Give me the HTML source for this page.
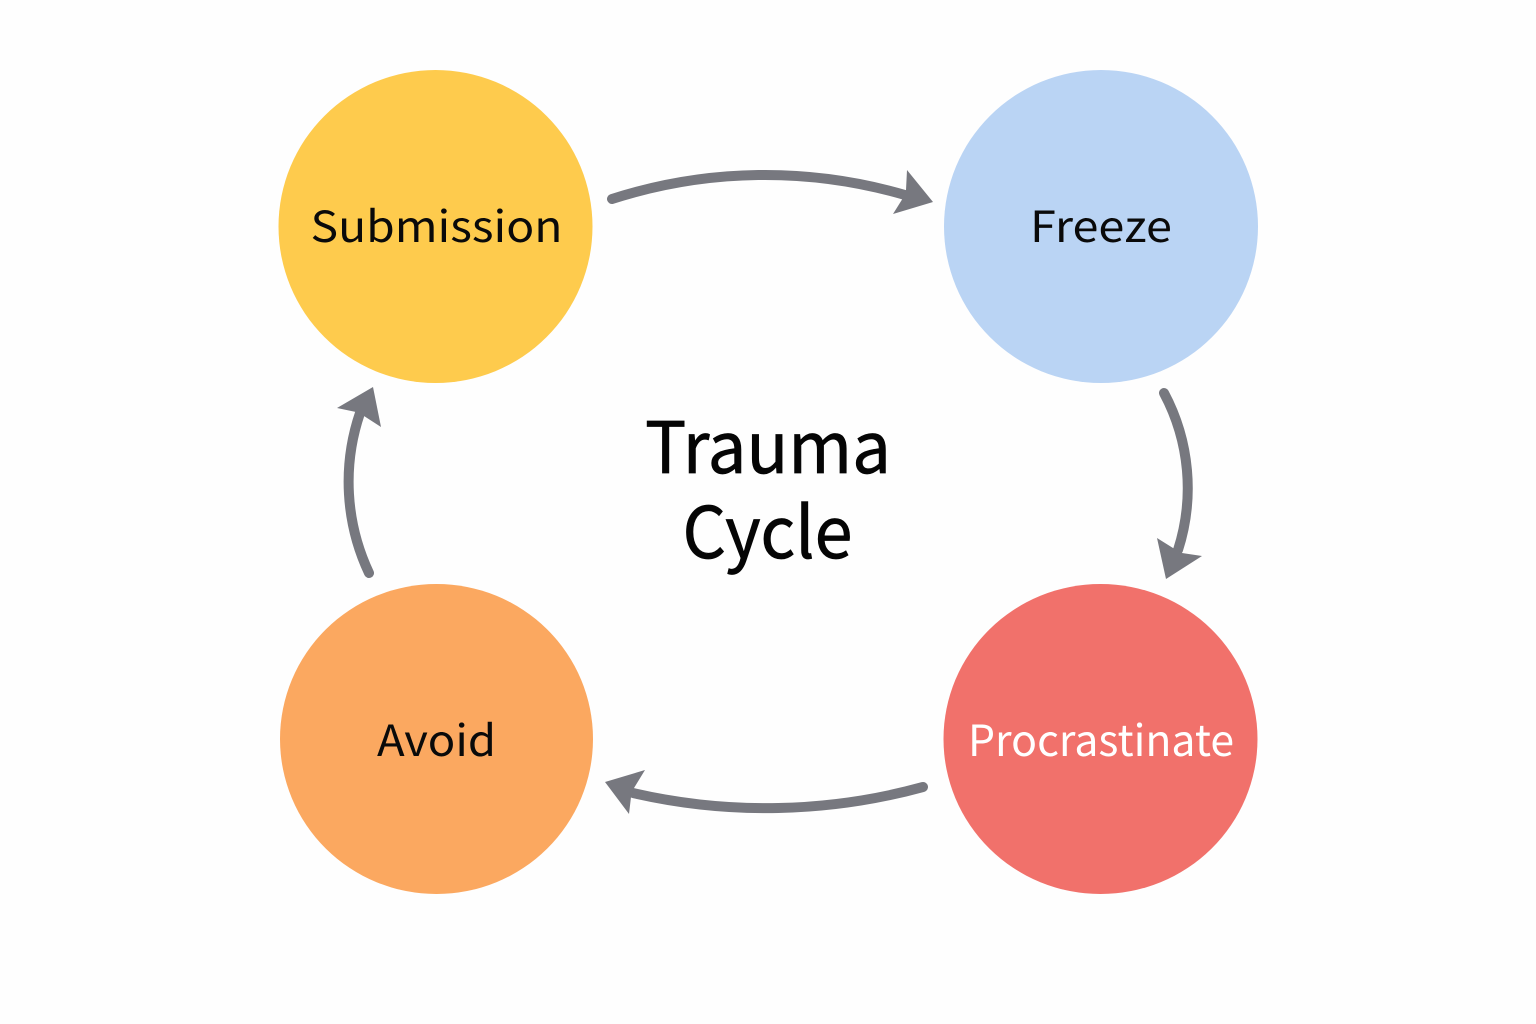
<!DOCTYPE html>
<html>
<head>
<meta charset="utf-8">
<style>
html,body{margin:0;padding:0;background:#fefefe;}
svg{display:block;}
text{font-family:"Noto Sans CJK JP","DejaVu Sans","Liberation Sans",sans-serif;text-anchor:middle;font-weight:400;}
</style>
</head>
<body>
<svg width="1536" height="1024" viewBox="0 0 1536 1024" xmlns="http://www.w3.org/2000/svg">
<rect width="1536" height="1024" fill="#fefefe"/>
<ellipse cx="435.500" cy="226.500" rx="157" ry="156.500" fill="#fecb4d"/>
<ellipse cx="1101" cy="226.500" rx="157" ry="156.500" fill="#bad4f4"/>
<ellipse cx="436.500" cy="739" rx="156.500" ry="155" fill="#fba860"/>
<ellipse cx="1100.500" cy="739" rx="157" ry="155" fill="#f1716b"/>
<g fill="none" stroke="#77787f" stroke-width="10" stroke-linecap="round">
<path d="M612 199 A499 499 0 0 1 905 195"/>
<path d="M1164 393 A202 202 0 0 1 1178 550"/>
<path d="M923 787 A593 593 0 0 1 633 793"/>
<path d="M369 573 A214 214 0 0 1 360 413"/>
</g>
<g fill="#77787f">
<polygon points="933,202 893,214 903,198 906,190 907,170"/>
<polygon points="1166,579 1157,538 1173,548 1182,553 1202,556"/>
<polygon points="605,782 645,770 634,788 631,797 629,814"/>
<polygon points="373,387 381,427 364,416 356,412 337,408"/>
</g>
<text x="436.500" y="242" font-size="43" fill="#0a0a0a" textLength="252" lengthAdjust="spacingAndGlyphs">Submission</text>
<text x="1101" y="242" font-size="43" fill="#0a0a0a" textLength="142" lengthAdjust="spacingAndGlyphs">Freeze</text>
<text x="436.500" y="756" font-size="43" fill="#0a0a0a" textLength="119" lengthAdjust="spacingAndGlyphs">Avoid</text>
<text x="1101" y="756" font-size="43" fill="#fff" textLength="266" lengthAdjust="spacingAndGlyphs">Procrastinate</text>
<text x="768" y="473" font-size="71" fill="#050505" stroke="#050505" stroke-width="0.7" textLength="246" lengthAdjust="spacingAndGlyphs">Trauma</text>
<text x="767.500" y="558" font-size="71" fill="#050505" stroke="#050505" stroke-width="0.7" textLength="170" lengthAdjust="spacingAndGlyphs">Cycle</text>
</svg>
</body>
</html>
